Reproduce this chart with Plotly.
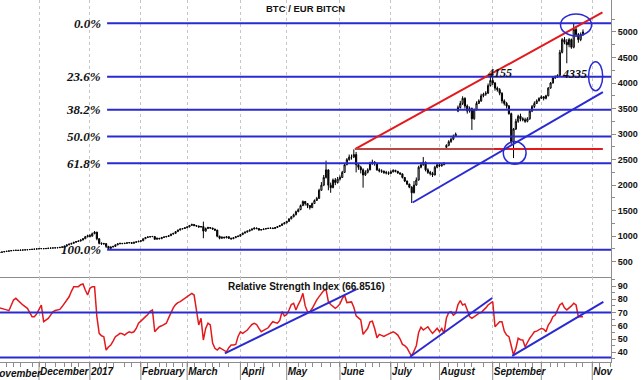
import pandas as pd
import plotly.graph_objects as go
from plotly.subplots import make_subplots

# ---------------- data (weekday bars, 2016-11-07 .. 2017-10-26) ----------------
close_nov = [680, 683, 690, 700, 705, 712, 718, 722, 725, 722, 728, 730, 733, 736, 740, 744, 747, 752]
close_dec = [755, 758, 755, 760, 765, 768, 770, 772, 775, 782, 790, 805, 830, 845, 860, 880, 895, 905, 925, 950, 990, 1010]
close_jan = [1000, 1050, 1080, 950, 860, 850, 855, 800, 760, 790, 800, 830, 850, 860, 855, 860, 870, 875, 860, 880, 890, 900]
close_feb = [910, 950, 975, 985, 990, 995, 940, 960, 950, 975, 985, 995, 1010, 1040, 1055, 1090, 1120, 1140, 1150, 1165]
close_mar = [1180, 1210, 1230, 1210, 1200, 1180, 1190, 1100, 1150, 1170, 1160, 1140, 1120, 1000, 960, 980, 970, 990, 960, 950, 970, 990, 1000]
close_apr = [1030, 1060, 1080, 1100, 1120, 1140, 1160, 1150, 1120, 1130, 1140, 1150, 1155, 1160, 1150, 1170, 1190, 1210, 1240, 1260]
close_may = [1290, 1340, 1380, 1420, 1480, 1520, 1600, 1680, 1640, 1600, 1560, 1640, 1700, 1740, 1900, 2000, 2150, 2300, 2000, 1950, 2100, 2050, 2120]
close_jun = [2150, 2250, 2400, 2500, 2550, 2550, 2600, 2400, 2350, 2300, 2200, 2250, 2300, 2420, 2450, 2420, 2300, 2280, 2270, 2250, 2240, 2230]
close_jul = [2260, 2290, 2270, 2240, 2220, 2150, 2080, 2020, 1960, 1850, 2000, 2100, 2350, 2400, 2450, 2300, 2250, 2230, 2200, 2350, 2400]
close_aug = [2380, 2400, 2420, 2780, 2850, 2900, 2960, 3000, 3520, 3600, 3700, 3550, 3450, 3500, 3300, 3480, 3600, 3650, 3750, 3780, 3800, 3950, 4050]
close_sep = [4000, 3900, 3870, 3800, 3650, 3600, 3550, 3400, 2850, 3100, 3250, 3350, 3300, 3280, 3250, 3300, 3450, 3540, 3600, 3650, 3700]
close_oct = [3730, 3700, 3750, 3900, 4000, 4100, 4120, 4150, 4600, 4850, 4800, 4750, 4850, 4700, 5050, 4950, 4850, 4950, 5000]

high_nov = [688, 692, 698, 708, 712, 718, 724, 728, 730, 729, 733, 735, 738, 741, 746, 750, 752, 758]
high_dec = [762, 764, 762, 765, 770, 773, 776, 778, 782, 788, 797, 812, 838, 852, 868, 888, 902, 915, 935, 965, 1005, 1030]
high_jan = [1040, 1070, 1100, 1085, 960, 880, 870, 860, 810, 800, 810, 840, 860, 870, 868, 872, 880, 885, 880, 890, 900, 912]
high_feb = [920, 958, 985, 995, 1000, 1005, 998, 970, 965, 985, 995, 1005, 1020, 1050, 1065, 1100, 1130, 1150, 1160, 1175]
high_mar = [1195, 1220, 1245, 1235, 1215, 1205, 1200, 1285, 1170, 1185, 1180, 1165, 1145, 1125, 1010, 995, 990, 1000, 995, 970, 980, 1000, 1015]
high_apr = [1045, 1070, 1090, 1110, 1130, 1150, 1170, 1170, 1155, 1140, 1150, 1160, 1165, 1170, 1168, 1180, 1200, 1220, 1250, 1275]
high_may = [1300, 1350, 1395, 1440, 1500, 1545, 1620, 1700, 1690, 1650, 1610, 1660, 1720, 1770, 1930, 2060, 2200, 2480, 2300, 2050, 2130, 2140, 2160]
high_jun = [2190, 2280, 2430, 2530, 2600, 2600, 2700, 2650, 2420, 2380, 2330, 2290, 2330, 2460, 2500, 2470, 2440, 2330, 2310, 2290, 2280, 2270]
high_jul = [2290, 2310, 2300, 2280, 2250, 2230, 2160, 2090, 2030, 1980, 2080, 2150, 2380, 2450, 2550, 2460, 2330, 2280, 2260, 2380, 2430]
high_aug = [2420, 2430, 2450, 2800, 2880, 2930, 2990, 3030, 3560, 3650, 3740, 3720, 3580, 3540, 3520, 3500, 3640, 3680, 3790, 3810, 3840, 3990, 4150]
high_sep = [4155, 4020, 3930, 3900, 3820, 3680, 3630, 3570, 3420, 3120, 3300, 3380, 3400, 3330, 3320, 3330, 3470, 3570, 3640, 3680, 3720]
high_oct = [3760, 3740, 3770, 3920, 4020, 4120, 4150, 4170, 4650, 4880, 4900, 4860, 4880, 4870, 5170, 5120, 4980, 4990, 5050]

low_nov = [672, 676, 682, 692, 698, 704, 710, 715, 718, 716, 720, 724, 727, 730, 734, 738, 741, 745]
low_dec = [748, 750, 748, 752, 758, 762, 764, 766, 768, 772, 780, 788, 800, 825, 840, 855, 875, 890, 898, 920, 945, 975]
low_jan = [975, 995, 1040, 920, 840, 830, 835, 770, 740, 755, 780, 792, 825, 845, 845, 850, 858, 862, 850, 855, 875, 885]
low_feb = [895, 905, 945, 970, 980, 985, 930, 935, 940, 945, 970, 980, 990, 1005, 1035, 1050, 1085, 1115, 1135, 1145]
low_mar = [1160, 1175, 1205, 1195, 1185, 1170, 1170, 960, 1090, 1140, 1145, 1130, 1100, 980, 940, 950, 955, 960, 945, 930, 945, 965, 985]
low_apr = [995, 1025, 1055, 1075, 1095, 1115, 1135, 1135, 1110, 1115, 1125, 1135, 1140, 1145, 1140, 1145, 1165, 1185, 1205, 1235]
low_may = [1255, 1285, 1330, 1370, 1410, 1470, 1510, 1590, 1600, 1550, 1520, 1550, 1630, 1690, 1730, 1890, 1980, 2130, 1900, 1850, 1940, 2000, 2030]
low_jun = [2090, 2140, 2240, 2390, 2480, 2500, 2530, 2250, 2300, 2230, 1950, 2180, 2230, 2290, 2400, 2380, 2280, 2250, 2240, 2220, 2210, 2200]
low_jul = [2220, 2250, 2250, 2220, 2200, 2130, 2060, 2000, 1940, 1650, 1840, 1990, 2090, 2330, 2380, 2270, 2220, 2190, 2160, 2190, 2330]
low_aug = [2350, 2360, 2390, 2720, 2760, 2830, 2880, 2950, 3430, 3500, 3570, 3500, 3400, 3420, 3082, 3280, 3460, 3590, 3630, 3720, 3750, 3790, 3930]
low_sep = [3960, 3850, 3830, 3760, 3600, 3560, 3500, 3380, 2800, 2530, 3080, 3220, 3250, 3250, 3220, 3230, 3280, 3430, 3510, 3590, 3640]
low_oct = [3690, 3660, 3680, 3740, 3890, 3990, 4080, 4100, 4140, 4580, 4760, 4387, 4700, 4670, 4680, 4900, 4790, 4820, 4920]

first_open = 675
open_gaps = {"2017-08-04": 2740, "2017-08-11": 3450}   # weekend gaps

rsi_nov = [74, 73.6, 73, 72.4, 72, 71.4, 75, 79.4, 80.7, 79, 77, 75.7, 74.5, 73.2, 70, 66.9, 66.9, 69]
rsi_dec = [72.4, 75.7, 63.1, 64.5, 65.6, 68, 70.6, 71.5, 72, 72.4, 74.5, 77, 79, 81.9, 86, 89.5, 89.5, 89.5, 91, 91.5, 87, 83.2]
rsi_jan = [88.3, 89.5, 89.5, 66.9, 54.3, 52.5, 51.8, 41.7, 44, 45.5, 48.5, 51.8, 53, 54.3, 54, 53, 54.5, 55.5, 54.8, 55.5, 58, 61.9]
rsi_feb = [63.5, 65.5, 66.9, 68.5, 71, 71.9, 55.5, 57.5, 59.3, 60, 61, 61.9, 66, 70.5, 73.5, 76, 77.5, 78.2, 79.5, 80.5]
rsi_mar = [81.5, 83.5, 84.5, 83.2, 73, 60.6, 65.6, 49.3, 58, 61.9, 60.6, 47, 43, 41.7, 43.5, 42.5, 41.2, 40.4, 43.5, 45.5, 45.5, 46, 52]
rsi_apr = [55.5, 54.3, 55.5, 56.8, 59, 61, 61.9, 61, 58, 55.5, 56.5, 57.5, 58.5, 61, 63.1, 62.5, 62, 64, 70.6, 67.5]
rsi_may = [68.5, 71.9, 76, 77, 71.9, 76, 79.4, 84.5, 75, 70.6, 70.6, 73, 76.5, 79.5, 82, 84, 86.5, 87.5, 78.2, 76, 74.5, 73.2, 74.5]
rsi_jun = [76.5, 80.5, 83, 77.5, 77.5, 78, 74, 67.5, 66, 64.4, 53.5, 55.5, 58.1, 63, 63.5, 58, 51, 53.5, 53, 52, 53, 54]
rsi_jul = [55, 55.5, 54.5, 53, 50, 46, 45, 43.3, 40, 37.2, 41, 45, 55, 59, 56.8, 58, 59.3, 56.5, 54.3, 56, 58.1]
rsi_aug = [55.5, 58, 54.3, 66, 70, 70.6, 68.1, 69.4, 76, 79, 75.7, 76.5, 72, 67, 65.6, 67, 68.5, 69.4, 70, 71.5, 73.5, 75.7, 77]
rsi_sep = [78.2, 59.3, 61, 63.1, 63.1, 56, 53, 51.8, 45, 37.9, 43, 50.6, 49.5, 49.3, 44.2, 48, 50.6, 53, 55.5, 56, 56.8]
rsi_oct = [58, 57.5, 55.5, 60.6, 63, 66.9, 68.1, 72, 75.7, 77, 73.5, 72, 73.2, 75, 77, 75.7, 66.9, 66.9, 66.85]

fib_levels = [5170, 4123, 3475, 2952, 2429, 734]
fib_labels = ["0.0%", "23.6%", "38.2%", "50.0%", "61.8%", "100.0%"]
rsi_levels = [70, 36]

month_ticks = ["2016-11-01", "2016-12-01", "2017-01-02", "2017-02-01", "2017-03-01", "2017-04-03",
               "2017-05-01", "2017-06-01", "2017-07-03", "2017-08-01", "2017-09-01", "2017-10-02", "2017-11-01"]
month_text = ["November", "December", "2017", "February", "March", "April", "May", "June", "July",
              "August", "September", "", "Nov"]
price_ticks = [500, 1000, 1500, 2000, 2500, 3000, 3500, 4000, 4500, 5000]
rsi_ticks = [40, 50, 60, 70, 80, 90]

# ---------------- assemble ----------------
closes = close_nov + close_dec + close_jan + close_feb + close_mar + close_apr + close_may + close_jun + close_jul + close_aug + close_sep + close_oct
highs = high_nov + high_dec + high_jan + high_feb + high_mar + high_apr + high_may + high_jun + high_jul + high_aug + high_sep + high_oct
lows = low_nov + low_dec + low_jan + low_feb + low_mar + low_apr + low_may + low_jun + low_jul + low_aug + low_sep + low_oct
rsi = rsi_nov + rsi_dec + rsi_jan + rsi_feb + rsi_mar + rsi_apr + rsi_may + rsi_jun + rsi_jul + rsi_aug + rsi_sep + rsi_oct
dates = pd.bdate_range("2016-11-07", periods=len(closes))
opens = [first_open] + closes[:-1]
for i, d in enumerate(dates):
    key = d.strftime("%Y-%m-%d")
    if key in open_gaps:
        opens[i] = open_gaps[key]

X_START = "2016-11-08 03:36"
X_END = "2017-11-13 02:24"
GRAY = "#8c8c8c"
BLUE = "#2a2ad2"
RED = "#e3191c"
BROWN = "#b84848"
SANS = "Liberation Sans, Arial, sans-serif"
SERIF = "Liberation Serif, Times New Roman, serif"

fig = make_subplots(rows=2, cols=1, shared_xaxes=True, vertical_spacing=0, row_heights=[277, 85])

fig.add_trace(go.Candlestick(
    x=dates, open=opens, high=highs, low=lows, close=closes,
    increasing=dict(line=dict(color="black", width=1), fillcolor="white"),
    decreasing=dict(line=dict(color="black", width=1), fillcolor="black"),
    whiskerwidth=0, showlegend=False, hoverinfo="skip"), row=1, col=1)

fig.add_trace(go.Scatter(x=dates, y=rsi, mode="lines", line=dict(color=RED, width=1.5),
                         showlegend=False, hoverinfo="skip"), row=2, col=1)

# minor x ticks (5 per month)
minor_dates = []
for m in pd.date_range("2016-11-01", "2017-11-01", freq="MS"):
    for dd in (6, 11, 16, 21, 26):
        t = m + pd.Timedelta(days=dd - 1)
        while t.weekday() >= 5:
            t += pd.Timedelta(days=1)
        minor_dates.append(t.strftime("%Y-%m-%d"))

common_x = dict(range=[X_START, X_END], rangebreaks=[dict(bounds=["sat", "mon"])],
                tickmode="array", tickvals=month_ticks, showgrid=True, gridcolor="#c6c6c6",
                griddash="dot", gridwidth=1, zeroline=False, showline=True, linecolor=GRAY, linewidth=1,
                automargin=False, tickangle=0)
fig.update_xaxes(**common_x)
fig.update_xaxes(row=1, col=1, showticklabels=False, ticks="", rangeslider_visible=False)
fig.update_xaxes(row=2, col=1, ticktext=month_text, ticks="outside", ticklen=4, tickcolor=GRAY,
                 ticklabelposition="outside right",
                 tickfont=dict(family=SANS, size=10, color="#111", style="italic", weight="bold"),
                 minor=dict(tickvals=minor_dates, ticks="outside", ticklen=4, tickcolor=GRAY, showgrid=False))

ytick_font = dict(family=SANS, size=9, color="#111", weight="bold")
fig.update_yaxes(row=1, col=1, side="right", range=[201, 5626], tickmode="array", tickvals=price_ticks,
                 ticks="outside", ticklen=4, tickcolor=GRAY, showline=True, linecolor=GRAY, linewidth=1,
                 showgrid=False, zeroline=False, automargin=False, tickfont=ytick_font,
                 minor=dict(tickvals=[750, 1250, 1750, 2250, 2750, 3250, 3750, 4250, 4750, 5250],
                            ticks="outside", ticklen=3, tickcolor=GRAY, showgrid=False))
fig.update_yaxes(row=2, col=1, side="right", range=[32.7, 96.8], tickmode="array", tickvals=rsi_ticks,
                 ticks="outside", ticklen=4, tickcolor=GRAY, showline=True, linecolor=GRAY, linewidth=1,
                 showgrid=False, zeroline=False, automargin=False, tickfont=ytick_font,
                 minor=dict(tickvals=[35, 45, 55, 65, 75, 85, 95], ticks="outside", ticklen=3,
                            tickcolor=GRAY, showgrid=False))

shapes = []
# Fibonacci retracement levels
for lv in fib_levels:
    shapes.append(dict(type="line", xref="x", yref="y", x0="2017-01-11 10:00", x1=X_END, y0=lv, y1=lv,
                       line=dict(color=BLUE, width=2)))
# trend lines on price
shapes.append(dict(type="line", xref="x", yref="y", x0="2017-06-09 12:00", y0=2704, x1="2017-11-07 10:00", y1=5385,
                   line=dict(color=RED, width=2)))
shapes.append(dict(type="line", xref="x", yref="y", x0="2017-06-09 12:00", y0=2710, x1="2017-09-01 12:00", y1=2710,
                   line=dict(color=BROWN, width=2)))
shapes.append(dict(type="line", xref="x", yref="y", x0="2017-09-01 12:00", y0=2710, x1="2017-11-07 14:00", y1=2710,
                   line=dict(color=RED, width=2)))
shapes.append(dict(type="line", xref="x", yref="y", x0="2017-07-14 10:00", y0=1660, x1="2017-11-07 14:00", y1=3820,
                   line=dict(color=BLUE, width=2)))
# ellipses
shapes.append(dict(type="circle", xref="x", yref="y", x0="2017-10-12 07:00", x1="2017-10-31 17:00", y0=4922, y1=5352,
                   line=dict(color=BLUE, width=1.5)))
shapes.append(dict(type="circle", xref="x", yref="y", x0="2017-10-30 10:00", x1="2017-11-07 12:00", y0=3851, y1=4419,
                   line=dict(color=BLUE, width=1.5)))
shapes.append(dict(type="circle", xref="x", yref="y", x0="2017-09-07 14:00", x1="2017-09-21 10:00", y0=2411, y1=2853,
                   line=dict(color=BLUE, width=1.5)))
# RSI levels and trend lines
for lv in rsi_levels:
    shapes.append(dict(type="line", xref="x2 domain", yref="y2", x0=0, x1=1, y0=lv, y1=lv,
                       line=dict(color=BLUE, width=2)))
shapes.append(dict(type="line", xref="x2", yref="y2", x0="2017-03-23 07:00", y0=39.2, x1="2017-06-12 05:00", y1=87.7,
                   line=dict(color=BLUE, width=2)))
shapes.append(dict(type="line", xref="x2", yref="y2", x0="2017-07-13 07:00", y0=36.7, x1="2017-08-31 19:00", y1=81,
                   line=dict(color=BLUE, width=2)))
shapes.append(dict(type="line", xref="x2", yref="y2", x0="2017-09-13 10:00", y0=37.4, x1="2017-11-07 19:00", y1=78,
                   line=dict(color=BLUE, width=2)))
# long month separator ticks below the time axis
for d in month_ticks[1:]:
    shapes.append(dict(type="line", xref="x2", yref="paper", x0=d, x1=d, y0=0, y1=-18 / 362,
                       line=dict(color=GRAY, width=1)))

annotations = []
for lv, lab in zip(fib_levels, fib_labels):
    annotations.append(dict(xref="paper", yref="y", x=103 / 611, y=lv, text="<b><i>%s</i></b>" % lab,
                            showarrow=False, xanchor="right", yanchor="middle",
                            font=dict(family=SERIF, size=13, color="#111")))
annotations.append(dict(xref="x", yref="y", x="2017-09-05 19:00", y=4198, text="<b><i>4155</i></b>",
                        showarrow=False, xanchor="center", yanchor="middle",
                        font=dict(family=SERIF, size=12, color="#111")))
annotations.append(dict(xref="x", yref="y", x="2017-10-20 12:00", y=4178, text="<b><i>4335</i></b>",
                        showarrow=False, xanchor="center", yanchor="middle",
                        font=dict(family=SERIF, size=12, color="#111")))
annotations.append(dict(xref="paper", yref="paper", x=305 / 611, y=1 - 9 / 362, text="<b>BTC / EUR BITCN</b>",
                        showarrow=False, xanchor="center", yanchor="middle",
                        font=dict(family=SANS, size=9.5, color="#111")))
annotations.append(dict(xref="paper", yref="paper", x=226 / 611, y=1 - 286 / 362,
                        text="<b>Relative Strength Index (66.8516)</b>",
                        showarrow=False, xanchor="left", yanchor="middle",
                        font=dict(family=SANS, size=10, color="#111")))
annotations.append(dict(xref="paper", yref="paper", x=-10 / 611, y=1 - 373 / 362, text="<b><i>November</i></b>",
                        showarrow=False, xanchor="left", yanchor="middle",
                        font=dict(family=SANS, size=10, color="#111")))

fig.update_layout(width=643, height=380, margin=dict(l=0, r=32, t=0, b=18),
                  paper_bgcolor="white", plot_bgcolor="white", showlegend=False,
                  shapes=shapes, annotations=annotations)

fig.write_html("out.html", config={"displayModeBar": False, "staticPlot": True},
               post_script="document.body.style.margin='0';document.body.style.overflow='hidden';")
